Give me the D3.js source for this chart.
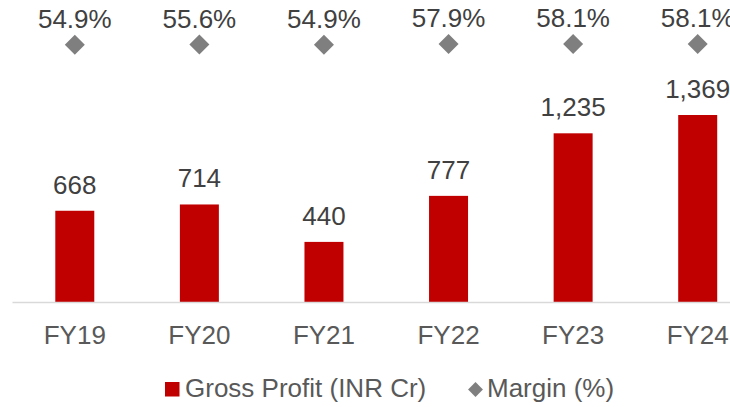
<!DOCTYPE html>
<html>
<head>
<meta charset="utf-8">
<script src="https://cdn.jsdelivr.net/npm/d3@7"></script>
<style>
  html, body { margin: 0; padding: 0; background: #fff; overflow: hidden; }
  svg { display: block; font-family: Arial, "Liberation Sans", sans-serif; }
</style>
</head>
<body>
<svg id="chart" width="730" height="407"></svg>
<script>
// Fiscal years and the two series
const years = ["FY19", "FY20", "FY21", "FY22", "FY23", "FY24"];
const grossProfit = [668, 714, 440, 777, 1235, 1369];   // INR Cr
const marginPct = [54.9, 55.6, 54.9, 57.9, 58.1, 58.1];  // %
const legendLabels = ["Gross Profit (INR Cr)", "Margin (%)"];

const barColor = "#C00000";
const markerColor = "#7F7F7F";
const textColor = "#404040";

const svg = d3.select("#chart");

// Category axis runs slightly past the right edge of the frame
const x = d3.scaleBand()
  .domain(years)
  .range([12.5, 760])
  .paddingInner(0.687)
  .paddingOuter(0.3435);

// Primary axis: gross profit
const y = d3.scaleLinear().domain([0, 2200]).range([302, 1.5]);
// Secondary axis: margin (wide range keeps the markers in a row along the top)
const y2 = d3.scaleLinear().domain([-1000, 230]).range([302, 2]);

// Bars
svg.append("g").selectAll("rect")
  .data(years)
  .join("rect")
  .attr("x", d => x(d))
  .attr("width", x.bandwidth())
  .attr("y", (d, i) => y(grossProfit[i]))
  .attr("height", (d, i) => y(0) - y(grossProfit[i]))
  .attr("fill", barColor);

// Bar value labels
const fmt = d3.format(",");
svg.append("g").selectAll("text")
  .data(years)
  .join("text")
  .attr("x", d => x(d) + x.bandwidth() / 2)
  .attr("y", (d, i) => y(grossProfit[i]) - 17)
  .attr("text-anchor", "middle")
  .attr("font-size", 26)
  .attr("fill", textColor)
  .text((d, i) => fmt(grossProfit[i]));

// Category axis (baseline only, no ticks)
const xAxis = svg.append("g")
  .attr("transform", `translate(0,${y(0)})`)
  .call(d3.axisBottom(x).tickSize(0).tickPadding(0));
xAxis.select(".domain").attr("stroke", "#D9D9D9").attr("stroke-width", 1.5)
  .attr("d", `M12.5,0.5H760`);
xAxis.selectAll(".tick text")
  .attr("y", 42)
  .attr("dy", null)
  .attr("font-size", 26)
  .attr("font-family", "Arial, 'Liberation Sans', sans-serif")
  .attr("fill", "#595959");

// Margin markers (diamonds)
const diamond = d3.symbol().type(d3.symbolSquare).size(200);
svg.append("g").selectAll("path")
  .data(years)
  .join("path")
  .attr("d", diamond)
  .attr("transform", (d, i) => `translate(${x(d) + x.bandwidth() / 2},${y2(marginPct[i])}) rotate(45)`)
  .attr("fill", markerColor);

// Margin labels
svg.append("g").selectAll("text")
  .data(years)
  .join("text")
  .attr("x", d => x(d) + x.bandwidth() / 2)
  .attr("y", (d, i) => y2(marginPct[i]) - 17)
  .attr("text-anchor", "middle")
  .attr("font-size", 26)
  .attr("fill", textColor)
  .text((d, i) => d3.format(".1f")(marginPct[i]) + "%");

// Legend
const legend = svg.append("g").attr("transform", "translate(0,397)");
legend.append("rect")
  .attr("x", 165).attr("y", -15)
  .attr("width", 14.5).attr("height", 14.5)
  .attr("fill", barColor);
legend.append("text")
  .attr("x", 185).attr("y", 0)
  .attr("font-size", 26)
  .attr("fill", "#595959")
  .text(legendLabels[0]);
legend.append("path")
  .attr("d", d3.symbol().type(d3.symbolSquare).size(110))
  .attr("transform", "translate(475.5,-7.5) rotate(45)")
  .attr("fill", markerColor);
legend.append("text")
  .attr("x", 487).attr("y", 0)
  .attr("font-size", 26)
  .attr("fill", "#595959")
  .text(legendLabels[1]);
</script>
</body>
</html>
